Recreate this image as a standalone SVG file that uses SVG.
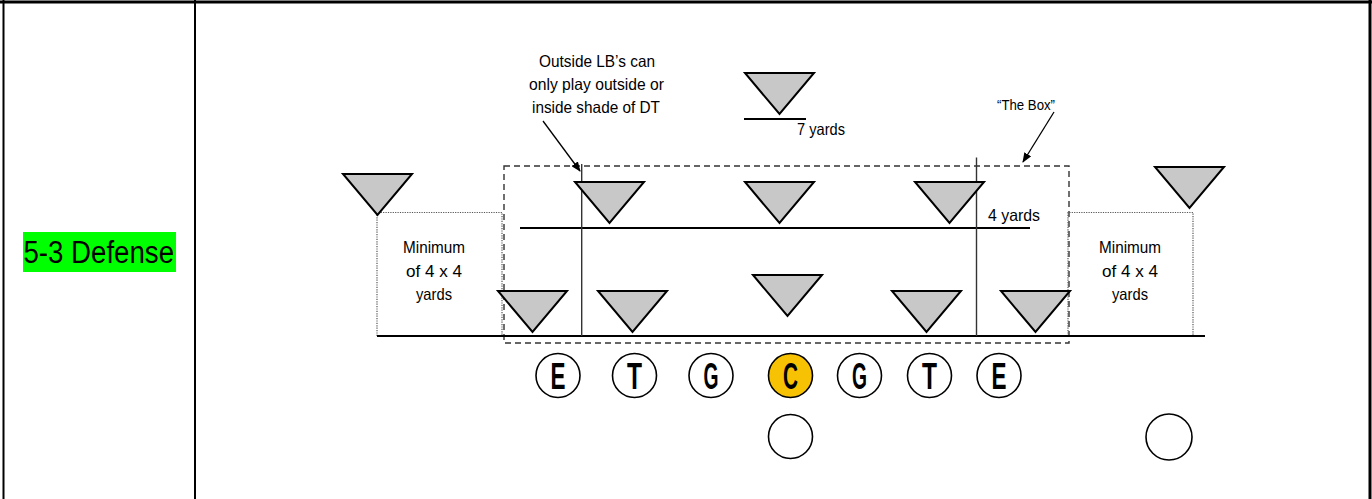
<svg xmlns="http://www.w3.org/2000/svg" xmlns:xlink="http://www.w3.org/1999/xlink" width="1372" height="499" viewBox="0 0 1372 499">
<style>
.t{font-family:"Liberation Sans Narrow","Arial Narrow","Liberation Sans",Arial,sans-serif;fill:#000;}
.lbl{font-size:16.5px;}
.ol{font-size:37px;font-weight:bold;text-anchor:middle;}
.tri{fill:#c8c8c8;stroke:#000;stroke-width:2;stroke-linejoin:miter;}
.dot{fill:none;stroke:#555;stroke-width:1.2;stroke-dasharray:1.2 1.2;}
.dash{fill:none;stroke:#333;stroke-width:1.4;stroke-dasharray:6 4;}
.line{stroke:#000;stroke-width:2;}
.vl{stroke:#333;stroke-width:1.4;}
.circ{fill:#fff;stroke:#000;stroke-width:1.6;}
.arr{stroke:#000;stroke-width:1.3;marker-end:url(#ah);}
</style>
<defs>
<path id="tri" class="tri" d="M0,0 L69,0 L34.5,41 Z"/>
<marker id="ah" markerWidth="10" markerHeight="8" refX="9" refY="4" orient="auto" markerUnits="userSpaceOnUse">
<path d="M0,0 L10,4 L0,8 Z" fill="#000"/>
</marker>
</defs>
<rect width="1372" height="499" fill="#fff"/>
<g id="table">
<line x1="0" y1="2" x2="1372" y2="2" stroke="#000" stroke-width="3"/>
<line x1="3.5" y1="0" x2="3.5" y2="499" stroke="#000" stroke-width="2"/>
<line x1="195" y1="0" x2="195" y2="499" stroke="#000" stroke-width="2"/>
<line x1="1370" y1="0" x2="1370" y2="499" stroke="#000" stroke-width="3"/>
</g>
<g id="title">
<rect x="23" y="232" width="153" height="40" fill="#00ff00"/>
<text class="t" x="23.5" y="262.5" font-size="31" textLength="150.5" lengthAdjust="spacingAndGlyphs">5-3 Defense</text>
</g>
<g id="zones">
<rect id="the-box" class="dash" x="504" y="166" width="565" height="177"/>
<path id="zone-left" class="dot" d="M377,336 V212.5 H502 V336"/>
<path id="zone-right" class="dot" d="M1068,336 V212.5 H1193 V336"/>
</g>
<g id="lines">
<line class="line" x1="377" y1="336" x2="1205" y2="336"/>
<line class="line" x1="520" y1="228" x2="1030" y2="228"/>
<line class="line" x1="744" y1="119" x2="806" y2="119"/>
<line class="vl" x1="581.7" y1="164" x2="581.7" y2="336"/>
<line class="vl" x1="976.5" y1="157.5" x2="976.5" y2="336"/>
</g>
<g id="connectors">
<line class="arr" x1="543" y1="121" x2="580" y2="171"/>
<line class="arr" x1="1054" y1="112" x2="1023" y2="162"/>
</g>
<g id="defenders">
<use id="safety-deep" xlink:href="#tri" x="745" y="73"/>
<use id="lb-left" xlink:href="#tri" x="575" y="182"/>
<use id="lb-mid" xlink:href="#tri" x="745" y="182"/>
<use id="lb-right" xlink:href="#tri" x="915" y="182"/>
<use id="cb-left" xlink:href="#tri" x="343" y="174"/>
<use id="cb-right" xlink:href="#tri" x="1155" y="167"/>
<use id="dl-1" xlink:href="#tri" x="498" y="291"/>
<use id="dl-2" xlink:href="#tri" x="598" y="291"/>
<use id="dl-3" xlink:href="#tri" x="753" y="275"/>
<use id="dl-4" xlink:href="#tri" x="892" y="291"/>
<use id="dl-5" xlink:href="#tri" x="1001" y="291"/>
</g>
<g id="offense">
<g id="ol-e1"><circle class="circ" cx="558" cy="375.5" r="22"/><text class="t ol" x="558" y="388.5" textLength="15" lengthAdjust="spacingAndGlyphs">E</text></g>
<g id="ol-t1"><circle class="circ" cx="634.5" cy="375.5" r="22"/><text class="t ol" x="634.5" y="388.5" textLength="15" lengthAdjust="spacingAndGlyphs">T</text></g>
<g id="ol-g1"><circle class="circ" cx="711" cy="375.5" r="22"/><text class="t ol" x="711" y="388.5" textLength="15" lengthAdjust="spacingAndGlyphs">G</text></g>
<g id="ol-c"><circle class="circ" cx="790.5" cy="375.5" r="22" fill="#f7c204" style="fill:#f7c204"/><text class="t ol" x="790.5" y="388.5" textLength="15" lengthAdjust="spacingAndGlyphs">C</text></g>
<g id="ol-g2"><circle class="circ" cx="859.5" cy="375.5" r="22"/><text class="t ol" x="859.5" y="388.5" textLength="15" lengthAdjust="spacingAndGlyphs">G</text></g>
<g id="ol-t2"><circle class="circ" cx="929.5" cy="375.5" r="22"/><text class="t ol" x="929.5" y="388.5" textLength="15" lengthAdjust="spacingAndGlyphs">T</text></g>
<g id="ol-e2"><circle class="circ" cx="999" cy="375.5" r="22"/><text class="t ol" x="999" y="388.5" textLength="15" lengthAdjust="spacingAndGlyphs">E</text></g>
<circle id="qb" class="circ" cx="790.5" cy="436.5" r="22"/>
<circle id="back" class="circ" cx="1169" cy="437" r="23"/>
</g>
<g id="labels">
<text class="t lbl" x="539" y="66.5" textLength="116" lengthAdjust="spacingAndGlyphs">Outside LB’s can</text>
<text class="t lbl" x="529" y="90" textLength="135" lengthAdjust="spacingAndGlyphs">only play outside or</text>
<text class="t lbl" x="532" y="113" textLength="128" lengthAdjust="spacingAndGlyphs">inside shade of DT</text>
<text class="t lbl" x="797" y="135" textLength="48" lengthAdjust="spacingAndGlyphs">7 yards</text>
<text class="t lbl" x="988" y="221" textLength="52" lengthAdjust="spacingAndGlyphs">4 yards</text>
<text class="t" x="997" y="110" font-size="15" textLength="58" lengthAdjust="spacingAndGlyphs">“The Box”</text>
<text class="t lbl" x="403" y="252.5" textLength="62" lengthAdjust="spacingAndGlyphs">Minimum</text>
<text class="t lbl" x="406" y="276.5" textLength="56" lengthAdjust="spacingAndGlyphs">of 4 x 4</text>
<text class="t lbl" x="416" y="300" textLength="36" lengthAdjust="spacingAndGlyphs">yards</text>
<text class="t lbl" x="1099" y="252.5" textLength="62" lengthAdjust="spacingAndGlyphs">Minimum</text>
<text class="t lbl" x="1102" y="276.5" textLength="56" lengthAdjust="spacingAndGlyphs">of 4 x 4</text>
<text class="t lbl" x="1112" y="300" textLength="36" lengthAdjust="spacingAndGlyphs">yards</text>
</g>
</svg>
